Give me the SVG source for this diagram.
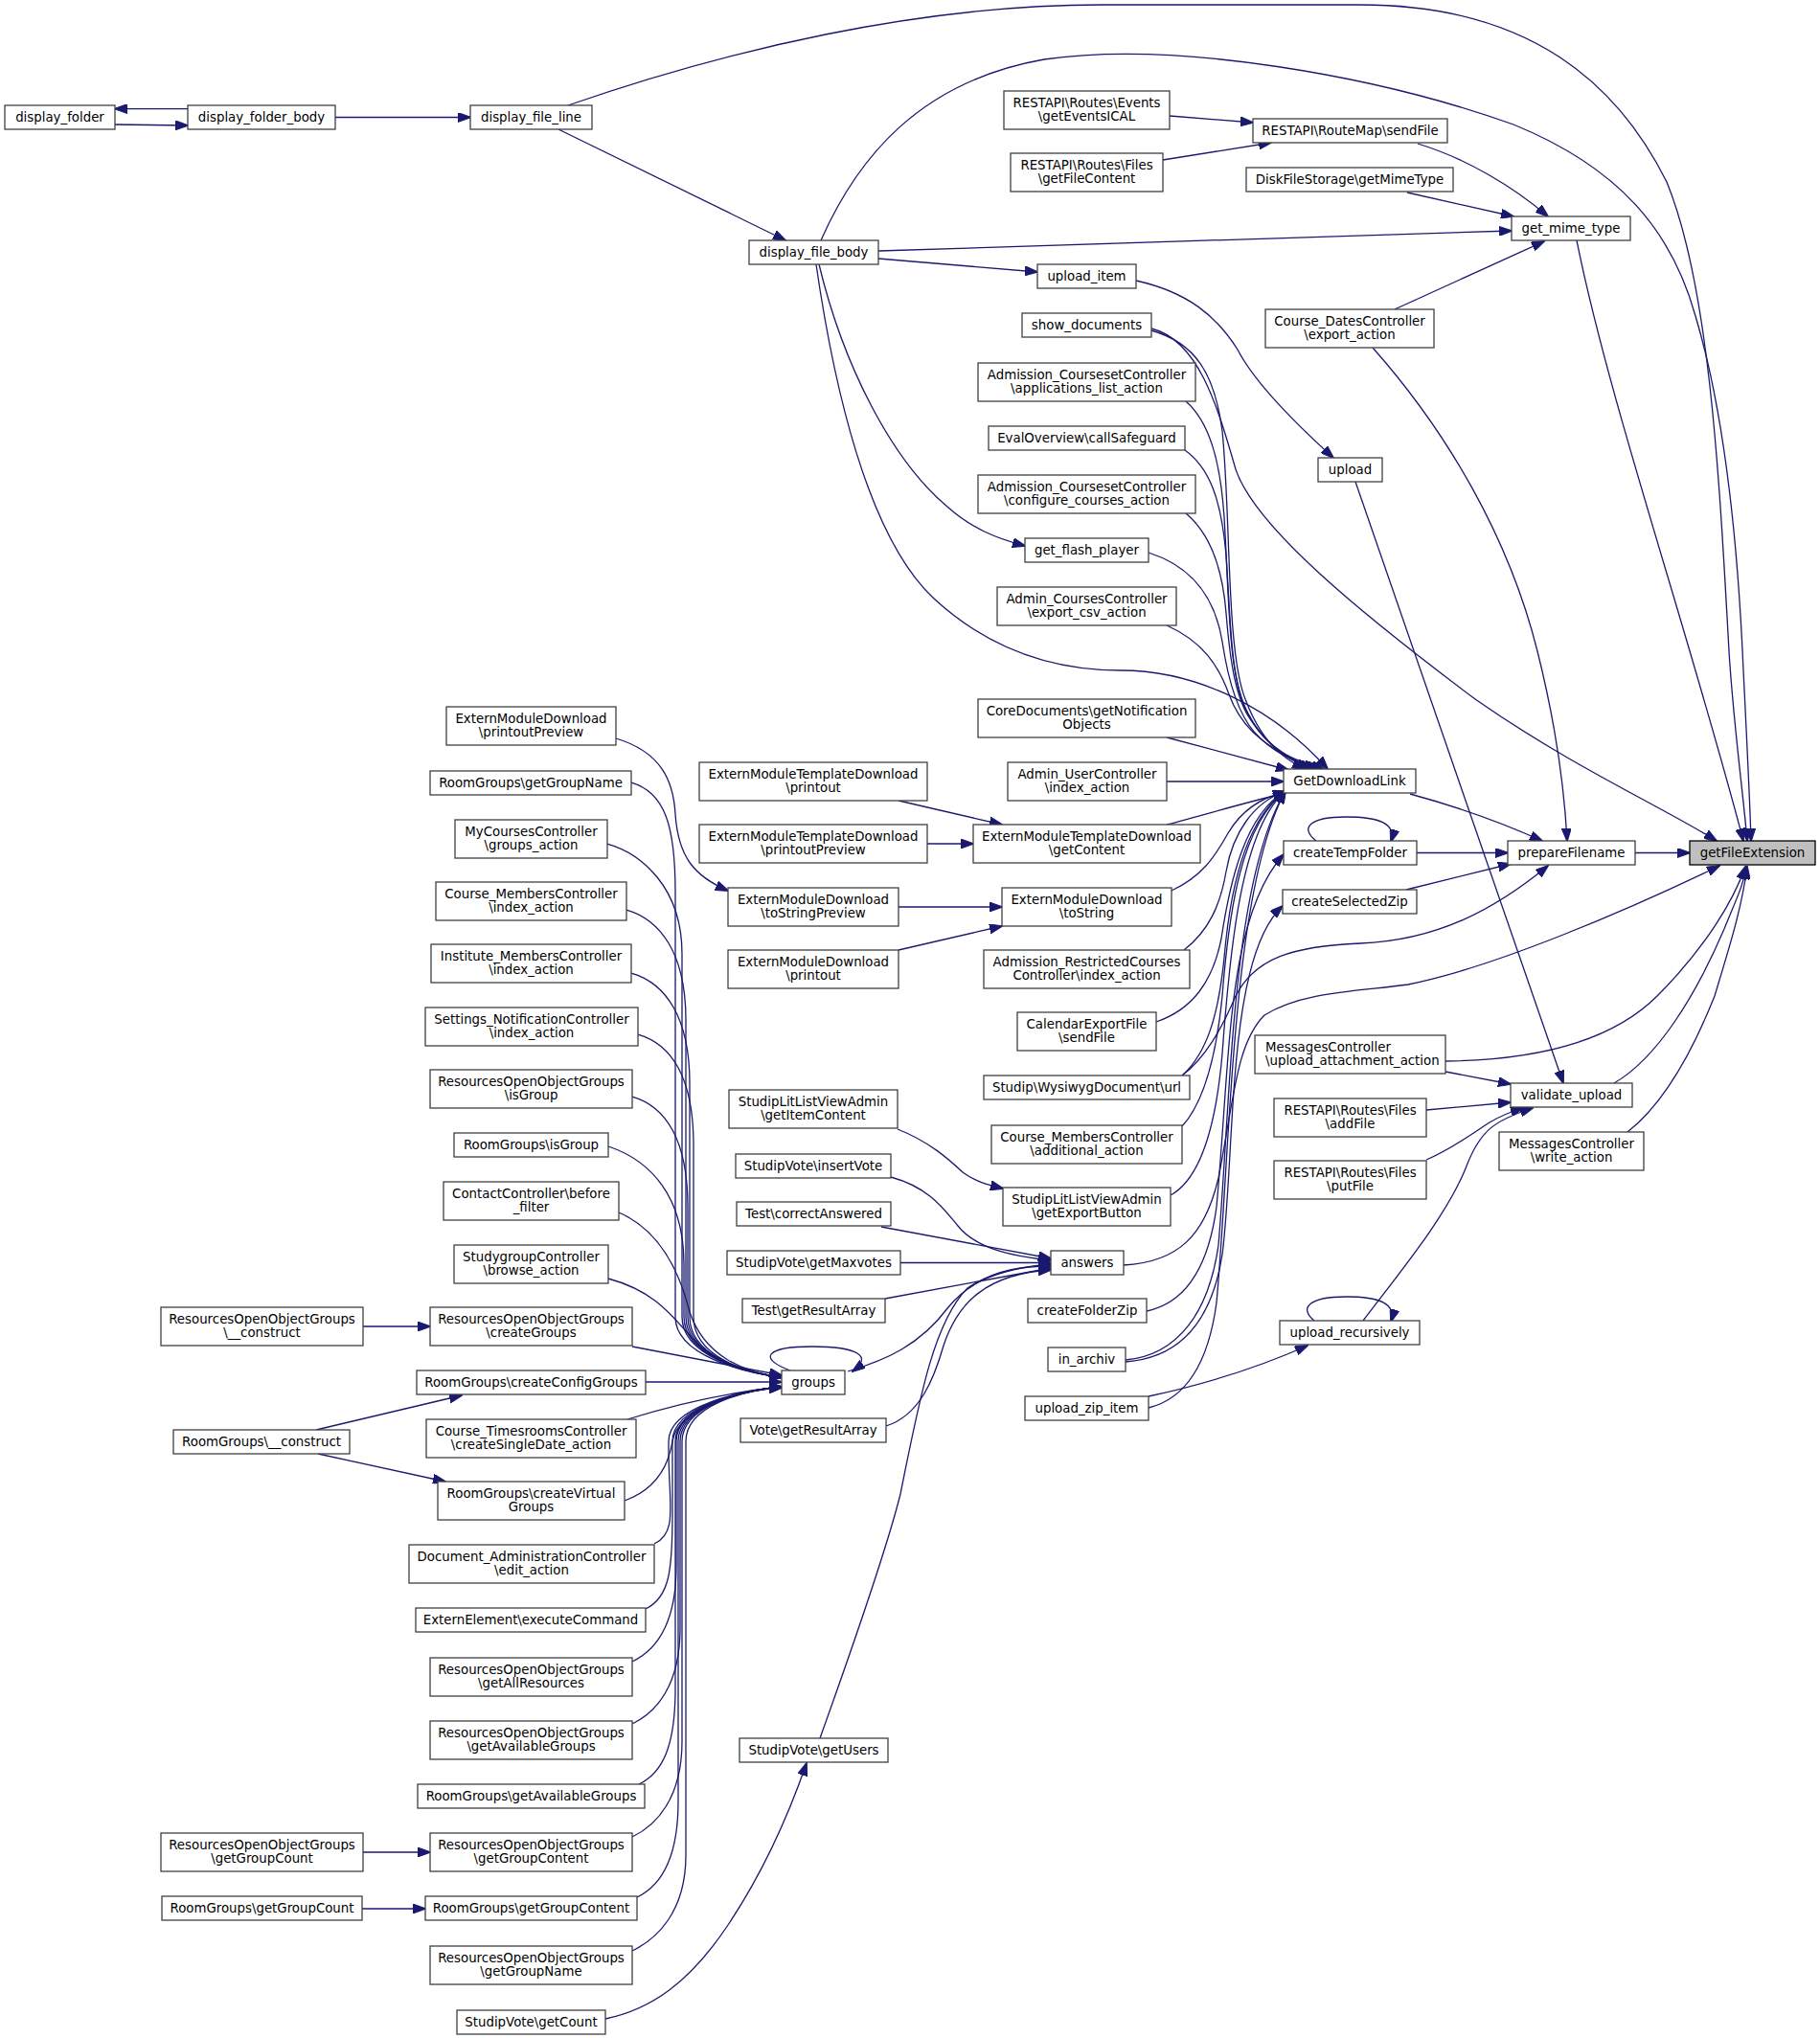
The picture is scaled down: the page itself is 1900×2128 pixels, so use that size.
<svg xmlns="http://www.w3.org/2000/svg" width="1900" height="2128" viewBox="0 0 1900 2128">
<defs>
<style>
.n rect{fill:#fff;stroke:#404040;stroke-width:1.3}
.r rect{fill:#bfbfbf;stroke:#000;stroke-width:1.3}
text{font-family:"DejaVu Sans","Noto Sans",sans-serif;font-size:13.33px;fill:#000;text-anchor:middle}
.l text{text-anchor:start}
#edges path{fill:none;stroke:#191970;stroke-width:1.3;marker-end:url(#ah)}
</style>
<marker id="ah" markerWidth="14" markerHeight="10" refX="13" refY="5" orient="auto" markerUnits="userSpaceOnUse"><path d="M0,0 L14,5 L0,10 z" fill="#191970" stroke="#191970" stroke-width="1"/></marker>
</defs>
<rect width="1900" height="2128" fill="#fff"/>
<g id="edges">
<path d="M196,113.6 L120,113.6"/>
<path d="M120,130 L196,131"/>
<path d="M350,122.5 L491,122.5"/>
<path d="M583,135 L820,251"/>
<path d="M593,110 C760,52 960,5 1150,5 L1420,5 C1600,5 1690,90 1740,190 C1785,300 1795,500 1805,680 C1810,760 1820,830 1824,878"/>
<path d="M857,251 C895,165 960,85 1090,62 C1230,42 1440,80 1580,130 C1690,175 1745,240 1770,330 C1800,430 1814,560 1820,700 C1824,780 1827,840 1828,878"/>
<path d="M1646,251 C1680,420 1760,650 1820,878"/>
<path d="M1707,890.5 L1764,890.5"/>
<path d="M1472,829 C1520,842 1570,860 1610,878"/>
<path d="M1479,890.5 L1574,890.5"/>
<path d="M1374,878 C1356,864 1368,853 1405,853 C1440,853 1458,860 1452,879"/>
<path d="M1468,929 L1577,902"/>
<path d="M1234,1123 C1258,1105 1275,1075 1290,1040 C1310,1000 1350,988 1420,985 C1500,982 1560,950 1616,904"/>
<path d="M1173,1321 C1230,1318 1258,1290 1272,1230 C1288,1150 1290,1090 1320,1060 C1360,1035 1420,1035 1470,1028 C1560,1010 1700,950 1795,904"/>
<path d="M917,270 L1083,284"/>
<path d="M917,262 L1578,241"/>
<path d="M855,276 C880,380 930,480 990,530 C1015,552 1040,562 1070,570"/>
<path d="M852,276 C870,400 905,560 975,625 C1040,685 1110,700 1170,700 C1250,700 1330,740 1386,803"/>
<path d="M1221,121 L1308,128"/>
<path d="M1214,167 L1327,149"/>
<path d="M1480,150 C1530,165 1580,195 1616,226"/>
<path d="M1469,201 L1580,226"/>
<path d="M1456,323 L1612,252"/>
<path d="M1433,363 C1510,450 1575,560 1605,680 C1625,760 1633,820 1636,878"/>
<path d="M1186,293 C1240,305 1270,330 1292,365 C1310,400 1350,440 1392,478"/>
<path d="M1415,503 L1632,1131"/>
<path d="M1202,343 C1250,355 1270,420 1290,490 C1310,550 1420,640 1540,730 C1640,800 1740,845 1792,878"/>
<path d="M1202,345 C1248,358 1268,390 1276,450 C1285,540 1280,680 1300,730 C1315,770 1335,790 1362,803"/>
<path d="M1238,419 C1262,440 1274,480 1278,540 C1283,620 1282,700 1300,740 C1315,772 1340,790 1366,803"/>
<path d="M1237,470 C1262,488 1275,520 1280,580 C1285,650 1284,710 1303,745 C1318,775 1342,792 1370,803"/>
<path d="M1238,536 C1262,556 1276,590 1280,640 C1284,690 1290,730 1306,752 C1322,778 1346,793 1374,803"/>
<path d="M1199,577 C1240,590 1268,620 1276,670 C1282,710 1292,745 1310,765 C1328,785 1350,796 1378,803"/>
<path d="M1218,653 C1256,670 1272,695 1283,725 C1295,758 1320,785 1382,803"/>
<path d="M1218,770 C1260,781 1300,792 1345,804"/>
<path d="M1218,816 L1340,816"/>
<path d="M1218,861 C1260,850 1300,838 1342,828"/>
<path d="M1223,930 C1255,915 1268,895 1282,870 C1295,848 1315,833 1342,827"/>
<path d="M1236,992 C1262,972 1274,945 1280,910 C1287,870 1308,838 1342,826"/>
<path d="M1207,1067 C1245,1054 1266,1025 1275,980 C1284,920 1300,850 1342,826"/>
<path d="M1234,1123 C1260,1100 1272,1060 1278,1000 C1284,930 1300,855 1342,826"/>
<path d="M1234,1176 C1258,1150 1270,1100 1276,1040 C1283,950 1296,860 1342,826"/>
<path d="M1222,1248 C1255,1230 1270,1170 1276,1100 C1284,990 1296,865 1342,826"/>
<path d="M1175,1420 C1230,1415 1262,1370 1272,1300 C1285,1150 1285,920 1342,826"/>
<path d="M1199,1470 C1240,1460 1262,1420 1270,1360 C1285,1200 1285,930 1342,826"/>
<path d="M1197,1369 C1240,1360 1262,1320 1270,1260 C1285,1100 1280,960 1340,892"/>
<path d="M1175,1422 C1232,1418 1265,1380 1276,1310 C1290,1200 1280,1000 1339,946"/>
<path d="M1199,1458 C1260,1445 1320,1425 1365,1405"/>
<path d="M1372,1379 C1355,1365 1368,1354 1405,1354 C1440,1354 1458,1361 1452,1380"/>
<path d="M1423,1379 C1460,1330 1510,1270 1530,1220 C1545,1180 1560,1170 1600,1157"/>
<path d="M1489,1211 C1515,1200 1535,1185 1555,1172 C1570,1163 1580,1160 1590,1157"/>
<path d="M1489,1159 L1577,1151"/>
<path d="M1509,1119 L1577,1132"/>
<path d="M1509,1108 C1600,1107 1680,1090 1730,1040 C1780,990 1810,940 1822,905"/>
<path d="M1685,1131 C1730,1105 1770,1040 1800,970 C1812,940 1820,925 1823,905"/>
<path d="M1699,1182 C1740,1150 1770,1090 1790,1040 C1805,990 1818,950 1824,905"/>
<path d="M938,836 L1046,861"/>
<path d="M968,881 L1016,881"/>
<path d="M938,947 L1046,947"/>
<path d="M938,992 L1046,967"/>
<path d="M643,771 C690,785 703,815 705,850 C708,895 725,915 760,930"/>
<path d="M937,1179 C970,1192 990,1210 1005,1224 C1020,1235 1035,1238 1047,1241"/>
<path d="M930,1229 C970,1240 985,1262 1000,1280 C1020,1305 1060,1312 1097,1316"/>
<path d="M920,1281 L1097,1314"/>
<path d="M940,1318.5 L1097,1318.5"/>
<path d="M924,1356 L1097,1324"/>
<path d="M925,1489 C960,1478 975,1440 985,1405 C1000,1360 1030,1330 1097,1326"/>
<path d="M856,1815 C890,1720 925,1620 940,1560 C960,1460 975,1380 1010,1345 C1040,1325 1070,1322 1097,1322"/>
<path d="M885,1432 C925,1420 960,1405 990,1365 C1010,1340 1040,1325 1097,1320"/>
<path d="M825,1431 C790,1418 800,1406 848,1406 C895,1406 912,1416 890,1432"/>
<path d="M632,2108 C680,2098 720,2070 760,2010 C800,1950 825,1890 842,1841"/>
<path d="M379,1385 L449,1385"/>
<path d="M379,1934 L449,1934"/>
<path d="M378,1993 L444,1993"/>
<path d="M330,1493 L482,1457"/>
<path d="M332,1518 L465,1547"/>
<path d="M659,817 C694,827 705,862 705,932 L705,1375 C705,1415 775,1433 816,1438"/>
<path d="M634,881 C669,891 712,926 712,996 L712,1375 C712,1415 775,1433 816,1438"/>
<path d="M654,950 C689,960 716,995 716,1065 L716,1375 C716,1415 775,1433 816,1438"/>
<path d="M659,1016 C694,1026 720,1061 720,1131 L720,1375 C720,1415 775,1433 816,1438"/>
<path d="M666,1080 C701,1090 724,1125 724,1195 L724,1375 C724,1415 775,1433 816,1438"/>
<path d="M660,1145 C695,1155 718,1190 718,1260 L718,1375 C718,1415 775,1433 816,1438"/>
<path d="M635,1197 C680,1212 714,1250 714,1320 L714,1375 C714,1415 775,1433 816,1438"/>
<path d="M646,1266 C690,1285 710,1330 720,1370 C735,1415 775,1433 816,1438"/>
<path d="M635,1335 C690,1350 705,1380 730,1405 C760,1428 790,1435 816,1438"/>
<path d="M660,1406 L816,1436"/>
<path d="M674,1443 L816,1443"/>
<path d="M655,1482 C700,1468 760,1454 816,1448"/>
<path d="M652,1567 C685,1555 698,1530 702,1505 C708,1470 770,1452 816,1449"/>
<path d="M683,1612 C708,1600 698,1572 698,1512 L698,1505 C698,1468 775,1452 816,1448"/>
<path d="M674,1680 C699,1668 702,1640 702,1580 L702,1505 C702,1468 775,1452 816,1448"/>
<path d="M660,1735 C685,1723 706,1695 706,1635 L706,1505 C706,1468 775,1452 816,1448"/>
<path d="M660,1800 C685,1788 710,1760 710,1700 L710,1505 C710,1468 775,1452 816,1448"/>
<path d="M667,1863 C692,1851 705,1823 705,1763 L705,1505 C705,1468 775,1452 816,1448"/>
<path d="M660,1918 C685,1906 712,1878 712,1818 L712,1505 C712,1468 775,1452 816,1448"/>
<path d="M665,1981 C690,1969 708,1941 708,1881 L708,1505 C708,1468 775,1452 816,1448"/>
<path d="M660,2037 C685,2025 716,1997 716,1937 L716,1505 C716,1468 775,1452 816,1448"/>
</g>
<g id="n1" class="n"><rect x="5" y="110" width="115" height="25"/><text x="62.5" y="127">display_folder</text></g>
<g id="n2" class="n"><rect x="196" y="110" width="154" height="25"/><text x="273" y="127">display_folder_body</text></g>
<g id="n3" class="n"><rect x="491" y="110" width="127" height="25"/><text x="554.5" y="127">display_file_line</text></g>
<g id="n4" class="n"><rect x="782" y="251" width="135" height="25"/><text x="849.5" y="268">display_file_body</text></g>
<g id="n5" class="n"><rect x="1048" y="95" width="173" height="40"/><text x="1134.5" y="112">RESTAPI\Routes\Events</text><text x="1134.5" y="126">\getEventsICAL</text></g>
<g id="n6" class="n"><rect x="1055" y="160" width="159" height="40"/><text x="1134.5" y="177">RESTAPI\Routes\Files</text><text x="1134.5" y="191">\getFileContent</text></g>
<g id="n7" class="n"><rect x="1083" y="276" width="103" height="25"/><text x="1134.5" y="293">upload_item</text></g>
<g id="n8" class="n"><rect x="1067" y="327" width="135" height="25"/><text x="1134.5" y="344">show_documents</text></g>
<g id="n9" class="n"><rect x="1021" y="379" width="227" height="40"/><text x="1134.5" y="396">Admission_CoursesetController</text><text x="1134.5" y="410">\applications_list_action</text></g>
<g id="n10" class="n"><rect x="1032" y="445" width="205" height="25"/><text x="1134.5" y="462">EvalOverview\callSafeguard</text></g>
<g id="n11" class="n"><rect x="1021" y="496" width="227" height="40"/><text x="1134.5" y="513">Admission_CoursesetController</text><text x="1134.5" y="527">\configure_courses_action</text></g>
<g id="n12" class="n"><rect x="1308" y="124" width="203" height="25"/><text x="1409.5" y="141">RESTAPI\RouteMap\sendFile</text></g>
<g id="n13" class="n"><rect x="1301" y="175" width="216" height="25"/><text x="1409" y="192">DiskFileStorage\getMimeType</text></g>
<g id="n14" class="n"><rect x="1578" y="226" width="124" height="25"/><text x="1640" y="243">get_mime_type</text></g>
<g id="n15" class="n"><rect x="1321" y="323" width="176" height="40"/><text x="1409" y="340">Course_DatesController</text><text x="1409" y="354">\export_action</text></g>
<g id="n16" class="n"><rect x="1376" y="478" width="67" height="25"/><text x="1409.5" y="495">upload</text></g>
<g id="n17" class="n"><rect x="1070" y="562" width="129" height="25"/><text x="1134.5" y="579">get_flash_player</text></g>
<g id="n18" class="n"><rect x="1041" y="613" width="187" height="40"/><text x="1134.5" y="630">Admin_CoursesController</text><text x="1134.5" y="644">\export_csv_action</text></g>
<g id="n19" class="n"><rect x="1021" y="730" width="227" height="40"/><text x="1134.5" y="747">CoreDocuments\getNotification</text><text x="1134.5" y="761">Objects</text></g>
<g id="n20" class="n"><rect x="1052" y="796" width="166" height="40"/><text x="1135" y="813">Admin_UserController</text><text x="1135" y="827">\index_action</text></g>
<g id="n21" class="n"><rect x="730" y="796" width="238" height="40"/><text x="849" y="813">ExternModuleTemplateDownload</text><text x="849" y="827">\printout</text></g>
<g id="n22" class="n"><rect x="730" y="861" width="238" height="40"/><text x="849" y="878">ExternModuleTemplateDownload</text><text x="849" y="892">\printoutPreview</text></g>
<g id="n23" class="n"><rect x="1016" y="861" width="237" height="40"/><text x="1134.5" y="878">ExternModuleTemplateDownload</text><text x="1134.5" y="892">\getContent</text></g>
<g id="n24" class="n"><rect x="760" y="927" width="178" height="40"/><text x="849" y="944">ExternModuleDownload</text><text x="849" y="958">\toStringPreview</text></g>
<g id="n25" class="n"><rect x="1046" y="927" width="177" height="40"/><text x="1134.5" y="944">ExternModuleDownload</text><text x="1134.5" y="958">\toString</text></g>
<g id="n26" class="n"><rect x="760" y="992" width="178" height="40"/><text x="849" y="1009">ExternModuleDownload</text><text x="849" y="1023">\printout</text></g>
<g id="n27" class="n"><rect x="1027" y="992" width="215" height="40"/><text x="1134.5" y="1009">Admission_RestrictedCourses</text><text x="1134.5" y="1023">Controller\index_action</text></g>
<g id="n28" class="n"><rect x="1062" y="1057" width="145" height="40"/><text x="1134.5" y="1074">CalendarExportFile</text><text x="1134.5" y="1088">\sendFile</text></g>
<g id="n29" class="n"><rect x="1027" y="1123" width="215" height="25"/><text x="1134.5" y="1140">Studip\WysiwygDocument\url</text></g>
<g id="n30" class="n"><rect x="1035" y="1175" width="199" height="40"/><text x="1134.5" y="1192">Course_MembersController</text><text x="1134.5" y="1206">\additional_action</text></g>
<g id="n31" class="n"><rect x="1047" y="1240" width="175" height="40"/><text x="1134.5" y="1257">StudipLitListViewAdmin</text><text x="1134.5" y="1271">\getExportButton</text></g>
<g id="n32" class="n"><rect x="1097" y="1306" width="76" height="25"/><text x="1135" y="1323">answers</text></g>
<g id="n33" class="n"><rect x="1073" y="1356" width="124" height="25"/><text x="1135" y="1373">createFolderZip</text></g>
<g id="n34" class="n"><rect x="1094" y="1407" width="81" height="25"/><text x="1134.5" y="1424">in_archiv</text></g>
<g id="n35" class="n"><rect x="1070" y="1458" width="129" height="25"/><text x="1134.5" y="1475">upload_zip_item</text></g>
<g id="n36" class="n"><rect x="761" y="1138" width="176" height="40"/><text x="849" y="1155">StudipLitListViewAdmin</text><text x="849" y="1169">\getItemContent</text></g>
<g id="n37" class="n"><rect x="768" y="1205" width="162" height="25"/><text x="849" y="1222">StudipVote\insertVote</text></g>
<g id="n38" class="n"><rect x="769" y="1255" width="161" height="25"/><text x="849.5" y="1272">Test\correctAnswered</text></g>
<g id="n39" class="n"><rect x="759" y="1306" width="181" height="25"/><text x="849.5" y="1323">StudipVote\getMaxvotes</text></g>
<g id="n40" class="n"><rect x="775" y="1356" width="149" height="25"/><text x="849.5" y="1373">Test\getResultArray</text></g>
<g id="n41" class="n"><rect x="816" y="1431" width="66" height="25"/><text x="849" y="1448">groups</text></g>
<g id="n42" class="n"><rect x="773" y="1481" width="152" height="25"/><text x="849" y="1498">Vote\getResultArray</text></g>
<g id="n43" class="n"><rect x="772" y="1815" width="155" height="25"/><text x="849.5" y="1832">StudipVote\getUsers</text></g>
<g id="n44" class="n"><rect x="1340" y="803" width="138" height="25"/><text x="1409" y="820">GetDownloadLink</text></g>
<g id="n45" class="n"><rect x="1340" y="878" width="139" height="25"/><text x="1409.5" y="895">createTempFolder</text></g>
<g id="n46" class="n"><rect x="1339" y="929" width="140" height="25"/><text x="1409" y="946">createSelectedZip</text></g>
<g id="n47" class="n"><rect x="1574" y="878" width="133" height="25"/><text x="1640.5" y="895">prepareFilename</text></g>
<g id="n48" class="r"><rect x="1764" y="878" width="131" height="25"/><text x="1829.5" y="895">getFileExtension</text></g>
<g id="n49" class="n l"><rect x="1310" y="1081" width="199" height="40"/><text x="1321" y="1098">MessagesController</text><text x="1321" y="1112">\upload_attachment_action</text></g>
<g id="n50" class="n"><rect x="1577" y="1131" width="127" height="25"/><text x="1640.5" y="1148">validate_upload</text></g>
<g id="n51" class="n"><rect x="1330" y="1147" width="159" height="40"/><text x="1409.5" y="1164">RESTAPI\Routes\Files</text><text x="1409.5" y="1178">\addFile</text></g>
<g id="n52" class="n"><rect x="1565" y="1182" width="151" height="40"/><text x="1640.5" y="1199">MessagesController</text><text x="1640.5" y="1213">\write_action</text></g>
<g id="n53" class="n"><rect x="1330" y="1212" width="159" height="40"/><text x="1409.5" y="1229">RESTAPI\Routes\Files</text><text x="1409.5" y="1243">\putFile</text></g>
<g id="n54" class="n"><rect x="1336" y="1379" width="146" height="25"/><text x="1409" y="1396">upload_recursively</text></g>
<g id="n55" class="n"><rect x="466" y="738" width="177" height="40"/><text x="554.5" y="755">ExternModuleDownload</text><text x="554.5" y="769">\printoutPreview</text></g>
<g id="n56" class="n"><rect x="449" y="805" width="210" height="25"/><text x="554" y="822">RoomGroups\getGroupName</text></g>
<g id="n57" class="n"><rect x="475" y="856" width="159" height="40"/><text x="554.5" y="873">MyCoursesController</text><text x="554.5" y="887">\groups_action</text></g>
<g id="n58" class="n"><rect x="455" y="921" width="199" height="40"/><text x="554.5" y="938">Course_MembersController</text><text x="554.5" y="952">\index_action</text></g>
<g id="n59" class="n"><rect x="450" y="986" width="209" height="40"/><text x="554.5" y="1003">Institute_MembersController</text><text x="554.5" y="1017">\index_action</text></g>
<g id="n60" class="n"><rect x="444" y="1052" width="222" height="40"/><text x="555" y="1069">Settings_NotificationController</text><text x="555" y="1083">\index_action</text></g>
<g id="n61" class="n"><rect x="449" y="1117" width="211" height="40"/><text x="554.5" y="1134">ResourcesOpenObjectGroups</text><text x="554.5" y="1148">\isGroup</text></g>
<g id="n62" class="n"><rect x="474" y="1183" width="161" height="25"/><text x="554.5" y="1200">RoomGroups\isGroup</text></g>
<g id="n63" class="n"><rect x="463" y="1234" width="183" height="40"/><text x="554.5" y="1251">ContactController\before</text><text x="554.5" y="1265">_filter</text></g>
<g id="n64" class="n"><rect x="474" y="1300" width="161" height="40"/><text x="554.5" y="1317">StudygroupController</text><text x="554.5" y="1331">\browse_action</text></g>
<g id="n65" class="n"><rect x="168" y="1365" width="211" height="40"/><text x="273.5" y="1382">ResourcesOpenObjectGroups</text><text x="273.5" y="1396">\__construct</text></g>
<g id="n66" class="n"><rect x="449" y="1365" width="211" height="40"/><text x="554.5" y="1382">ResourcesOpenObjectGroups</text><text x="554.5" y="1396">\createGroups</text></g>
<g id="n67" class="n"><rect x="435" y="1431" width="239" height="25"/><text x="554.5" y="1448">RoomGroups\createConfigGroups</text></g>
<g id="n68" class="n"><rect x="181" y="1493" width="184" height="25"/><text x="273" y="1510">RoomGroups\__construct</text></g>
<g id="n69" class="n"><rect x="445" y="1482" width="219" height="40"/><text x="554.5" y="1499">Course_TimesroomsController</text><text x="554.5" y="1513">\createSingleDate_action</text></g>
<g id="n70" class="n"><rect x="457" y="1547" width="195" height="40"/><text x="554.5" y="1564">RoomGroups\createVirtual</text><text x="554.5" y="1578">Groups</text></g>
<g id="n71" class="n"><rect x="427" y="1613" width="256" height="40"/><text x="555" y="1630">Document_AdministrationController</text><text x="555" y="1644">\edit_action</text></g>
<g id="n72" class="n"><rect x="434" y="1679" width="240" height="25"/><text x="554" y="1696">ExternElement\executeCommand</text></g>
<g id="n73" class="n"><rect x="449" y="1731" width="211" height="40"/><text x="554.5" y="1748">ResourcesOpenObjectGroups</text><text x="554.5" y="1762">\getAllResources</text></g>
<g id="n74" class="n"><rect x="449" y="1797" width="211" height="40"/><text x="554.5" y="1814">ResourcesOpenObjectGroups</text><text x="554.5" y="1828">\getAvailableGroups</text></g>
<g id="n75" class="n"><rect x="436" y="1863" width="237" height="25"/><text x="554.5" y="1880">RoomGroups\getAvailableGroups</text></g>
<g id="n76" class="n"><rect x="168" y="1914" width="211" height="40"/><text x="273.5" y="1931">ResourcesOpenObjectGroups</text><text x="273.5" y="1945">\getGroupCount</text></g>
<g id="n77" class="n"><rect x="449" y="1914" width="211" height="40"/><text x="554.5" y="1931">ResourcesOpenObjectGroups</text><text x="554.5" y="1945">\getGroupContent</text></g>
<g id="n78" class="n"><rect x="169" y="1980" width="209" height="25"/><text x="273.5" y="1997">RoomGroups\getGroupCount</text></g>
<g id="n79" class="n"><rect x="444" y="1980" width="221" height="25"/><text x="554.5" y="1997">RoomGroups\getGroupContent</text></g>
<g id="n80" class="n"><rect x="449" y="2032" width="211" height="40"/><text x="554.5" y="2049">ResourcesOpenObjectGroups</text><text x="554.5" y="2063">\getGroupName</text></g>
<g id="n81" class="n"><rect x="477" y="2099" width="155" height="25"/><text x="554.5" y="2116">StudipVote\getCount</text></g>
</svg>
